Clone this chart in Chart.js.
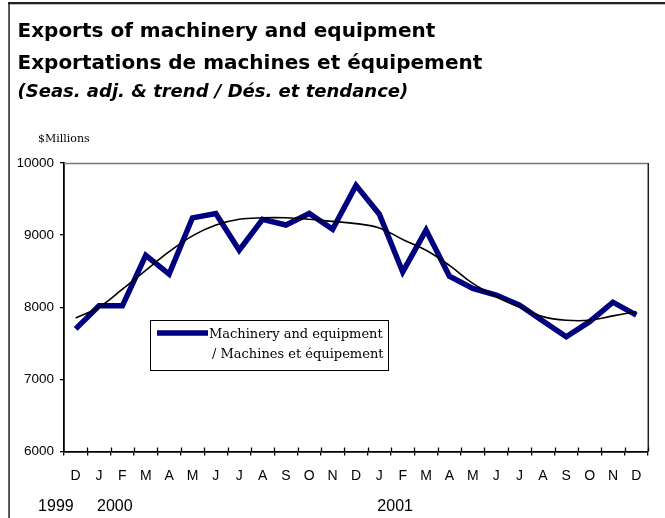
<!DOCTYPE html>
<html>
<head>
<meta charset="utf-8">
<title>Exports of machinery and equipment</title>
<script src="https://cdn.jsdelivr.net/npm/chart.js@4/dist/chart.umd.min.js"></script>
<style>
  html, body { margin: 0; padding: 0; background: #fff; }
  canvas { display: block; }
</style>
</head>
<body>
<canvas id="chart" width="665" height="518"></canvas>
<script>
// Exports of machinery and equipment, Dec 1999 – Dec 2001 (seasonally adjusted + trend)

const months = ['D', 'J', 'F', 'M', 'A', 'M', 'J', 'J', 'A', 'S', 'O', 'N',
    'D', 'J', 'F', 'M', 'A', 'M', 'J', 'J', 'A', 'S', 'O', 'N', 'D'];
const yearLabels = ['1999', '2000', '2001'];
const yearStarts = [0, 1, 13];   // index into months

// $ millions
const machinery = [7700, 8020, 8020, 8720, 8460, 9240, 9300, 8790, 9220, 9140, 9300, 9080,
    9690, 9290, 8490, 9070, 8430, 8260, 8170, 8030, 7810, 7590, 7800, 8070, 7890];
const trend = [7850, 8000, 8250, 8510, 8770, 8990, 9140, 9220, 9240, 9240, 9220, 9190,
    9160, 9100, 8940, 8790, 8580, 8330, 8150, 8000, 7870, 7820, 7820, 7880, 7940];

const yMin = 6000, yMax = 10000, yStep = 1000;

const titleLines = ['Exports of machinery and equipment', 'Exportations de machines et équipement'];
const subtitleText = '(Seas. adj. & trend / Dés. et tendance)';
const unitLabel = '$Millions';
const legendLines = ['Machinery and equipment', '/ Machines et équipement'];

const NAVY = '#000080';
const AXIS_FONT = 'Liberation Sans, Arial, sans-serif';
const SERIF = 'DejaVu Serif, serif';

// ---- 장식: 바깥 틀, 단위, 범례, 연도, x축 안쪽 눈금 ----
const decor = {
    id: 'decor',
    beforeDraw(chart) {
        const ctx = chart.ctx;
        ctx.save();
        ctx.fillStyle = '#fff';
        ctx.fillRect(0, 0, chart.width, chart.height);
        ctx.fillStyle = '#222';
        ctx.fillRect(8, 2, chart.width - 8, 2.3);   // 위 테두리
        ctx.fillRect(8.3, 2, 1.5, chart.height);    // 왼쪽 테두리
        ctx.restore();
    },
    afterDraw(chart) {
        const { ctx, chartArea: a, scales: { x } } = chart;
        ctx.save();

        // plot box: top (grey) and right
        ctx.lineWidth = 1.5;
        ctx.strokeStyle = '#777';
        ctx.beginPath(); ctx.moveTo(a.left, a.top + 0.5); ctx.lineTo(a.right, a.top + 0.5); ctx.stroke();
        ctx.strokeStyle = '#222';
        ctx.beginPath(); ctx.moveTo(a.right + 0.3, a.top); ctx.lineTo(a.right + 0.3, a.bottom); ctx.stroke();

        // x ticks cross the axis: inner half
        ctx.strokeStyle = '#000';
        ctx.lineWidth = 1.3;
        const half = (x.getPixelForValue(1) - x.getPixelForValue(0)) / 2;
        ctx.beginPath();
        for (let i = 1; i <= months.length; i++) {
            const px = Math.round(x.getPixelForValue(i) - half) + 0.5;
            ctx.moveTo(px, a.bottom); ctx.lineTo(px, a.bottom - 4);
        }
        ctx.stroke();

        // unit
        ctx.fillStyle = '#000';
        ctx.font = '11px ' + SERIF;
        ctx.textAlign = 'left';
        ctx.textBaseline = 'alphabetic';
        ctx.fillText(unitLabel, 38, a.top - 21);

        // years
        ctx.font = '16px ' + AXIS_FONT;
        yearStarts.forEach((idx, k) => {
            ctx.textAlign = k === 0 ? 'right' : 'left';
            ctx.fillText(yearLabels[k], x.getPixelForValue(idx) - 2, 511);
        });

        // legend box
        const ds = chart.data.datasets[0];
        const bx = a.left + 86, by = a.top + 157, bw = 238, bh = 50;
        ctx.fillStyle = '#fff';
        ctx.fillRect(bx, by, bw, bh);
        ctx.strokeStyle = '#000';
        ctx.lineWidth = 1;
        ctx.strokeRect(bx + 0.5, by + 0.5, bw, bh);
        ctx.strokeStyle = ds.borderColor;
        ctx.lineWidth = ds.borderWidth;
        ctx.beginPath(); ctx.moveTo(bx + 7, by + 13); ctx.lineTo(bx + 58, by + 13); ctx.stroke();
        ctx.fillStyle = '#000';
        ctx.font = '13px ' + SERIF;
        ctx.textAlign = 'left';
        legendLines.forEach((t, i) => ctx.fillText(t, bx + 59 + i * 3, by + 17.5 + i * 20));

        ctx.restore();
    }
};

new Chart(document.getElementById('chart'), {
    type: 'line',
    data: {
        labels: months,
        datasets: [
            {
                label: legendLines.join(' '),
                data: machinery,
                borderColor: NAVY,
                backgroundColor: NAVY,
                borderWidth: 5.5,
                pointRadius: 0,
                tension: 0,
                order: 1,
            },
            {
                label: 'Trend / Tendance',
                data: trend,
                borderColor: '#000',
                backgroundColor: '#000',
                borderWidth: 1.6,
                pointRadius: 0,
                tension: 0.4,
                order: 0,
            },
        ],
    },
    options: {
        responsive: false,
        animation: false,
        layout: { padding: { left: 17.5, right: 17, top: 0, bottom: 20.7 } },
        plugins: {
            legend: { display: false },
            tooltip: { enabled: false },
            title: {
                display: true,
                text: titleLines,
                align: 'start',
                color: '#000',
                font: { family: 'DejaVu Sans', size: 20, weight: 'bold', lineHeight: 1.63 },
                padding: { top: 15.2, bottom: 0 },
            },
            subtitle: {
                display: true,
                text: subtitleText,
                align: 'start',
                color: '#000',
                font: { family: 'DejaVu Sans', size: 18, weight: 'bold', style: 'italic', lineHeight: 1.2 },
                padding: { top: 1.4, bottom: 59.6 },
            },
        },
        scales: {
            x: {
                type: 'category',
                offset: true,
                grid: { display: true, offset: true, drawOnChartArea: false, drawTicks: true, tickLength: 4, color: '#000', lineWidth: 1.3 },
                border: { display: true, color: '#000', width: 1.8 },
                ticks: { autoSkip: false, maxRotation: 0, padding: 12.5, color: '#000', font: { family: AXIS_FONT, size: 14 } },
            },
            y: {
                min: yMin,
                max: yMax,
                afterFit: s => { s.width = 46.5; },
                grid: { display: true, drawOnChartArea: false, drawTicks: true, tickLength: 4, color: '#000', lineWidth: 1.3 },
                border: { display: true, color: '#000', width: 1.8 },
                ticks: {
                    stepSize: yStep,
                    padding: 6,
                    color: '#000',
                    font: { family: AXIS_FONT, size: 13.5 },
                    callback: v => String(v),
                },
            },
        },
    },
    plugins: [decor],
});
</script>
</body>
</html>
